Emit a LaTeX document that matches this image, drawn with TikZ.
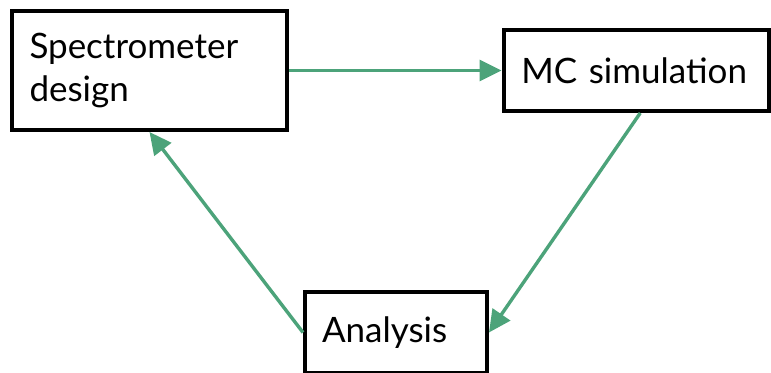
\documentclass[tikz,border=0pt]{standalone}
\usepackage{fontspec}
\setmainfont{Lato}
\usetikzlibrary{arrows.meta,calc}
\definecolor{loopgreen}{RGB}{76,163,122}
\newcommand{\boxfont}{\fontsize{17.5}{21.5}\selectfont\hyphenpenalty=10000\relax}

\begin{document}
\begin{tikzpicture}[
  box/.style={draw, line width=2pt, align=left, inner xsep=8.5pt, font=\boxfont},
  flow/.style={loopgreen, line width=1.7pt, -{Triangle[length=11pt,width=10.5pt]}}
]
\useasboundingbox (0,0) rectangle (385.5pt,-186.5pt);
\node[box, minimum width=137.5pt, minimum height=59.5pt, text width=120pt] (design) at (74.75pt,-35.25pt) {Spectrometer\\design};
\node[box, minimum width=132.75pt, minimum height=40.5pt, text width=115pt] (sim) at (318.125pt,-35.25pt) {MC simulation};
\node[box, minimum width=91pt, minimum height=40.5pt, text width=74pt] (ana) at (198pt,-166.25pt) {Analysis};
\draw[flow] (design.east) -- (sim.west);
\draw[flow] ($(sim.south)+(2pt,0)$) -- (ana.east);
\draw[flow] (ana.west) -- (design.south);
\end{tikzpicture}
\end{document}
